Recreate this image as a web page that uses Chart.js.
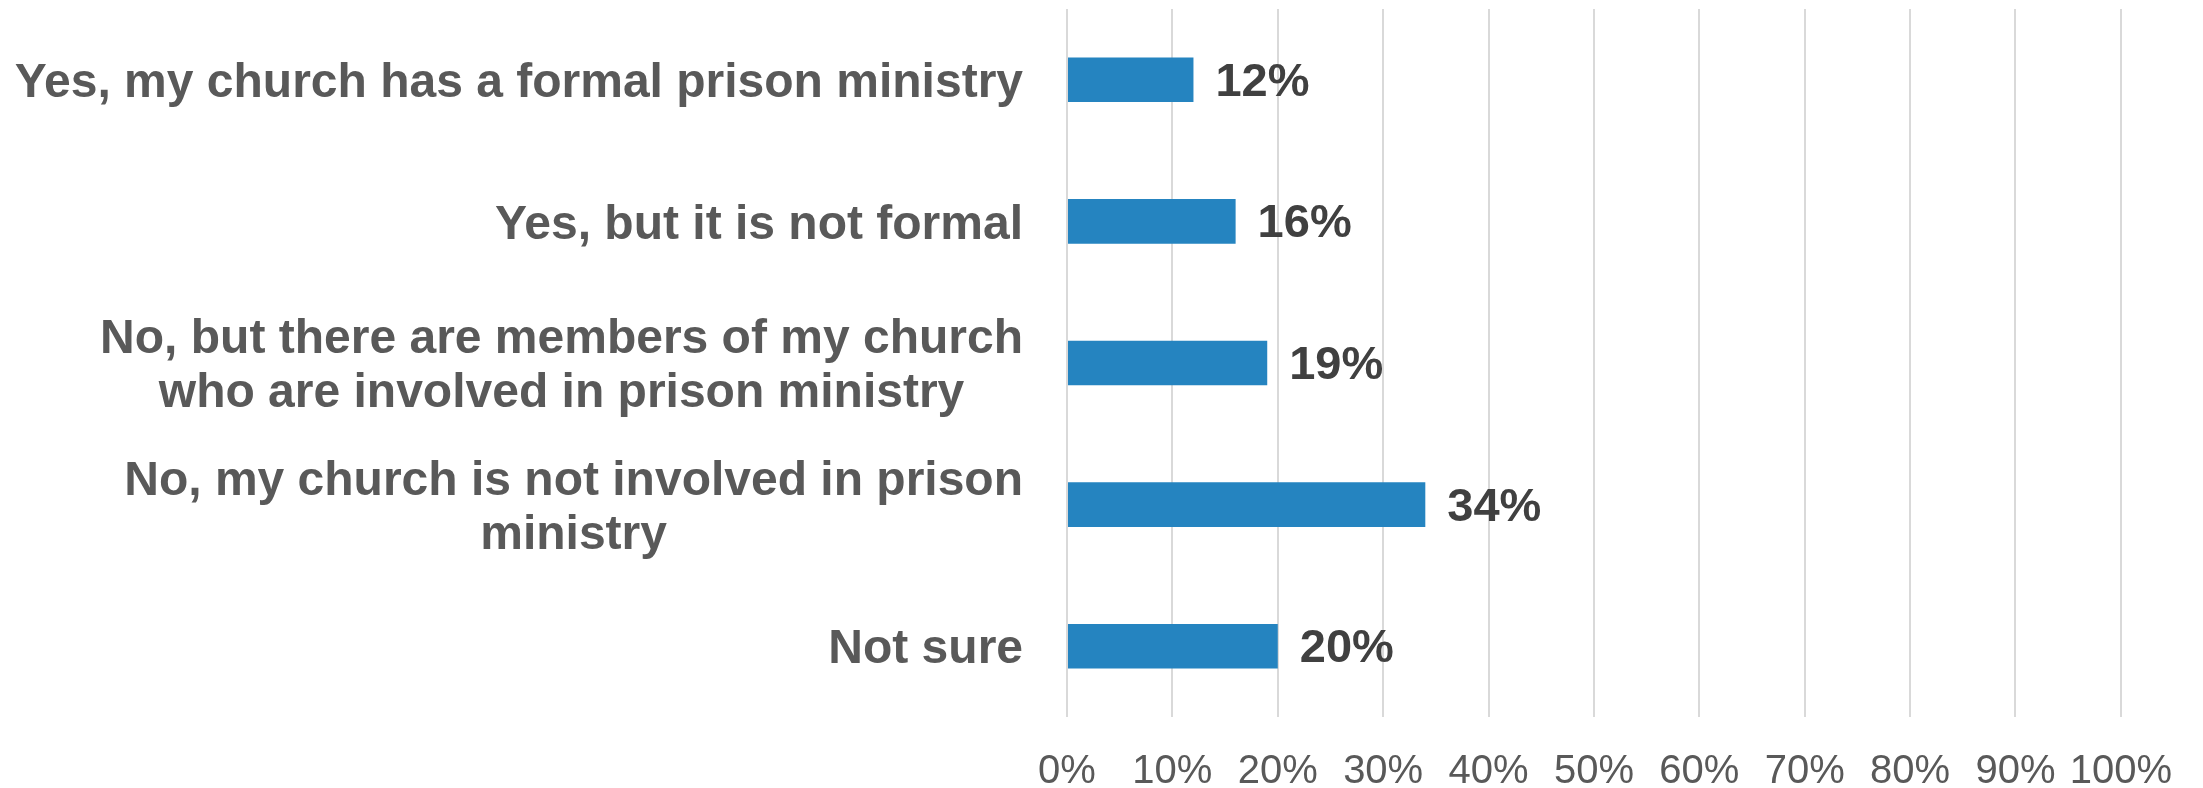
<!DOCTYPE html>
<html>
<head>
<meta charset="utf-8">
<script src="https://cdn.jsdelivr.net/npm/chart.js@4/dist/chart.umd.min.js"></script>
<style>
  html, body { margin: 0; padding: 0; background: #fff; }
  #wrap { width: 2203px; height: 788px; }
</style>
</head>
<body>
<div id="wrap"><canvas id="chart" width="2203" height="788"></canvas></div>
<script>
// categories (each entry is a list of lines) and shares in percent
const categories = [
    ['Yes, my church has a formal prison ministry'],
    ['Yes, but it is not formal'],
    ['No, but there are members of my church', 'who are involved in prison ministry'],
    ['No, my church is not involved in prison', 'ministry'],
    ['Not sure']
];
const shares = [12, 16, 19, 34, 20];
const xTicks = [0, 10, 20, 30, 40, 50, 60, 70, 80, 90, 100];

const FONT = "'Liberation Sans', Arial, Helvetica, sans-serif";

// category names on the left: lines centred on each other, block right-aligned to the axis
const categoryLabels = {
    id: 'categoryLabels',
    afterDraw(chart) {
        const ctx = chart.ctx;
        const yScale = chart.scales.y;
        const right = chart.chartArea.left - 44;
        const lineH = 54;
        ctx.save();
        ctx.font = 'bold 48px ' + FONT;
        ctx.fillStyle = '#595959';
        ctx.textAlign = 'center';
        ctx.textBaseline = 'middle';
        categories.forEach((lines, i) => {
            const yc = yScale.getPixelForValue(i) + 4;
            const maxW = Math.max(...lines.map(l => ctx.measureText(l).width));
            const cx = right - maxW / 2;
            lines.forEach((line, j) => {
                ctx.fillText(line, cx, yc + (j - (lines.length - 1) / 2) * lineH);
            });
        });
        ctx.restore();
    }
};

// value labels to the right of each bar
const valueLabels = {
    id: 'valueLabels',
    afterDatasetsDraw(chart) {
        const ctx = chart.ctx;
        const meta = chart.getDatasetMeta(0);
        ctx.save();
        ctx.font = 'bold 47px ' + FONT;
        ctx.fillStyle = '#404040';
        ctx.textAlign = 'left';
        ctx.textBaseline = 'middle';
        meta.data.forEach((bar, i) => {
            ctx.fillText(shares[i] + '%', bar.x + 22, bar.y + 3);
        });
        ctx.restore();
    }
};

new Chart(document.getElementById('chart'), {
    type: 'bar',
    data: {
        labels: categories.map(c => c.join(' ')),
        datasets: [{
            data: shares,
            backgroundColor: '#2584c0',
            borderWidth: 0,
            categoryPercentage: 1,
            barPercentage: 0.315
        }]
    },
    options: {
        indexAxis: 'y',
        responsive: false,
        animation: false,
        devicePixelRatio: 1,
        layout: { padding: { left: 1067, right: 80, top: 9, bottom: 0 } },
        scales: {
            x: {
                min: 0, max: 100,
                afterBuildTicks: (scale) => { scale.ticks = xTicks.map(v => ({ value: v })); },
                afterFit: (scale) => { scale.height = 71; },
                grid: { color: '#d9d9d9', lineWidth: 2, drawTicks: false },
                border: { display: false },
                ticks: {
                    padding: 31,
                    color: '#595959',
                    font: { family: FONT, size: 40, lineHeight: 1.2 },
                    maxRotation: 0,
                    autoSkip: false,
                    callback: (v) => v + '%'
                }
            },
            y: {
                display: false
            }
        },
        plugins: {
            legend: { display: false },
            tooltip: { enabled: false }
        }
    },
    plugins: [categoryLabels, valueLabels]
});
</script>
</body>
</html>
